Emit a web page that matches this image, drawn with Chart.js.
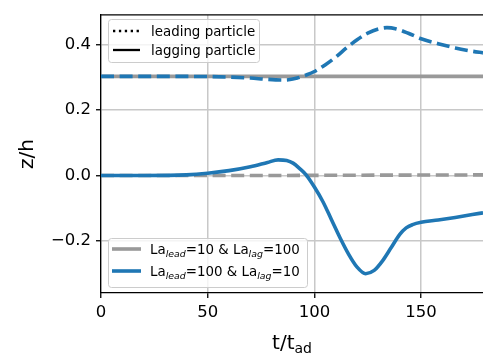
<!DOCTYPE html>
<html><head><meta charset="utf-8">
<script src="https://cdn.jsdelivr.net/npm/chart.js@4.4.0/dist/chart.umd.min.js"></script>
<style>html,body{margin:0;padding:0;background:#fff;}</style>
</head><body>
<canvas id="c" width="483" height="354" style="display:block;width:483px;height:354px"></canvas>
<script>
// ---- data ----
const xTicks = [0, 50, 100, 150];
const yTicks = [-0.2, 0, 0.2, 0.4];

// case 1: La_lead=10 & La_lag=100 (gray)
const grayLeadT = [0, 60, 120, 179];
const grayLeadZ = [0.0, 0.0, 0.001, 0.002];
const grayLagT = [0, 90, 179];
const grayLagZ = [0.303, 0.303, 0.303];

// case 2: La_lead=100 & La_lag=10 (blue)
const blueLeadT = [0, 40, 60, 70, 78, 86, 92, 96, 100, 105, 110, 115, 120, 125, 130, 134, 138, 144, 150, 158, 166, 174, 179];
const blueLeadZ = [0.303, 0.303, 0.301, 0.298, 0.294, 0.292, 0.298, 0.307, 0.318, 0.338, 0.362, 0.39, 0.415, 0.435, 0.448, 0.452, 0.449, 0.435, 0.418, 0.403, 0.39, 0.380, 0.375];
const blueLagT = [0, 20, 40, 50, 60, 70, 78, 83, 87, 90, 93, 96, 100, 104, 108, 112, 116, 120, 124, 128, 132, 136, 140, 143, 146, 150, 158, 166, 174, 179];
const blueLagZ = [0, 0, 0.002, 0.007, 0.015, 0.027, 0.040, 0.048, 0.046, 0.038, 0.022, 0.003, -0.035, -0.08, -0.135, -0.19, -0.24, -0.28, -0.30, -0.29, -0.26, -0.22, -0.18, -0.16, -0.15, -0.143, -0.136, -0.128, -0.119, -0.114];

const laLead = [10, 100];
const laLag = [100, 10];
const styleLabels = ['leading particle', 'lagging particle'];
const xTitle = ['t/t', 'ad'];
const yTitle = 'z/h';

const GRAY = '#999999';
const BLUE = '#1f77b4';
const FONT = "'DejaVu Sans', sans-serif";

function pts(t, z) { return t.map((v, i) => ({ x: v, y: z[i] })); }

const common = { pointRadius: 0, borderWidth: 3.6, fill: false, cubicInterpolationMode: 'monotone', borderCapStyle: 'butt' };
const dash = [13, 5.6];

const overlay = {
  id: 'overlay',
  afterDraw(chart) {
    const ctx = chart.ctx, a = chart.chartArea;
    ctx.save();
    // top spine
    ctx.strokeStyle = '#000'; ctx.lineWidth = 1.3;
    ctx.beginPath(); ctx.moveTo(a.left, a.top); ctx.lineTo(a.right, a.top); ctx.stroke();

    function frame(x0, y0, x1, y1) {
      ctx.beginPath();
      ctx.roundRect(x0 + 0.5, y0 + 0.5, x1 - x0, y1 - y0, 3);
      ctx.fillStyle = 'rgba(255,255,255,0.8)'; ctx.fill();
      ctx.strokeStyle = '#cccccc'; ctx.lineWidth = 1; ctx.stroke();
    }
    function line(x0, x1, y, color, w, d) {
      ctx.beginPath(); ctx.setLineDash(d || []); ctx.strokeStyle = color; ctx.lineWidth = w; ctx.lineCap = 'butt';
      ctx.moveTo(x0, y); ctx.lineTo(x1, y); ctx.stroke(); ctx.setLineDash([]);
    }
    function subFont(p, size) {
      return (p.sub ? (p.italic ? 'italic ' : '') + (size * 0.7) : size) + 'px ' + FONT;
    }
    function mathText(parts, x, y, size) {
      ctx.fillStyle = '#000'; ctx.textBaseline = 'alphabetic'; ctx.textAlign = 'left';
      for (const p of parts) {
        ctx.font = subFont(p, size);
        ctx.fillText(p.t, x, p.sub ? y + size * 0.22 : y);
        x += ctx.measureText(p.t).width;
      }
      return x;
    }
    function mathWidth(parts, size) {
      let w = 0;
      for (const p of parts) { ctx.font = subFont(p, size); w += ctx.measureText(p.t).width; }
      return w;
    }

    // legend 1: line styles
    frame(108, 19, 259, 62);
    line(113, 140, 31, '#000', 2.3, [2.3, 3.6]);
    line(113, 140, 50, '#000', 2.3);
    ctx.font = '13.4px ' + FONT; ctx.fillStyle = '#000'; ctx.textBaseline = 'alphabetic';
    ctx.fillText(styleLabels[0], 151, 35.5);
    ctx.fillText(styleLabels[1], 151, 54.5);

    // legend 2: cases
    frame(108, 238, 307, 287);
    const cols = [GRAY, BLUE];
    const ys = [249, 271];
    for (let i = 0; i < 2; i++) {
      line(112, 141, ys[i], cols[i], 3.6);
      mathText([{ t: 'La' }, { t: 'lead', sub: true, italic: true }, { t: '=' + laLead[i] + ' & La' }, { t: 'lag', sub: true, italic: true }, { t: '=' + laLag[i] }], 150, ys[i] + 5, 13.4);
    }

    // x title with upright subscript
    const xp = [{ t: xTitle[0] }, { t: xTitle[1], sub: true }];
    const w = mathWidth(xp, 20);
    const cx = (a.left + a.right) / 2;
    mathText(xp, cx - w / 2, 349, 20);
    ctx.restore();
  }
};

new Chart(document.getElementById('c'), {
  type: 'line',
  data: {
    datasets: [
      Object.assign({ label: 'lead La_lead=100', data: pts(blueLeadT, blueLeadZ), borderColor: BLUE, borderDash: dash }, common),
      Object.assign({ label: 'lag La_lag=10', data: pts(blueLagT, blueLagZ), borderColor: BLUE }, common),
      Object.assign({ label: 'lead La_lead=10', data: pts(grayLeadT, grayLeadZ), borderColor: GRAY, borderDash: dash }, common),
      Object.assign({ label: 'lag La_lag=100', data: pts(grayLagT, grayLagZ), borderColor: GRAY }, common)
    ]
  },
  options: {
    responsive: false,
    devicePixelRatio: 1,
    animation: false,
    layout: { padding: { left: 0, right: 0, top: 12, bottom: 0 } },
    plugins: { legend: { display: false }, tooltip: { enabled: false } },
    scales: {
      x: {
        type: 'linear', min: 0, max: 179,
        afterBuildTicks: s => { s.ticks = xTicks.map(v => ({ value: v })); },
        afterFit: s => { s.height = 61; },
        ticks: { font: { family: FONT, size: 16.5 }, color: '#000', padding: 5, maxRotation: 0, autoSkip: false, callback: v => String(v) },
        grid: { color: '#c8c8c8', lineWidth: 1.5, tickColor: '#000', tickLength: 5, tickWidth: 1.3 },
        border: { color: '#000', width: 1.3 }
      },
      y: {
        type: 'linear', min: -0.359, max: 0.491,
        afterBuildTicks: s => { s.ticks = yTicks.map(v => ({ value: v })); },
        afterFit: s => { s.width = 101; },
        ticks: { font: { family: FONT, size: 16.5 }, color: '#000', padding: 5, autoSkip: false,
          callback: v => (Math.abs(v) < 1e-9 ? '0.0' : (v < 0 ? '\u2212' : '') + Math.abs(v).toFixed(1)) },
        grid: { color: '#c8c8c8', lineWidth: 1.5, tickColor: '#000', tickLength: 5, tickWidth: 1.3 },
        border: { color: '#000', width: 1.3 },
        title: { display: true, text: yTitle, color: '#000', font: { family: FONT, size: 20 }, padding: { top: 16, bottom: 0 } }
      }
    }
  },
  plugins: [overlay]
});
</script>
</body></html>
